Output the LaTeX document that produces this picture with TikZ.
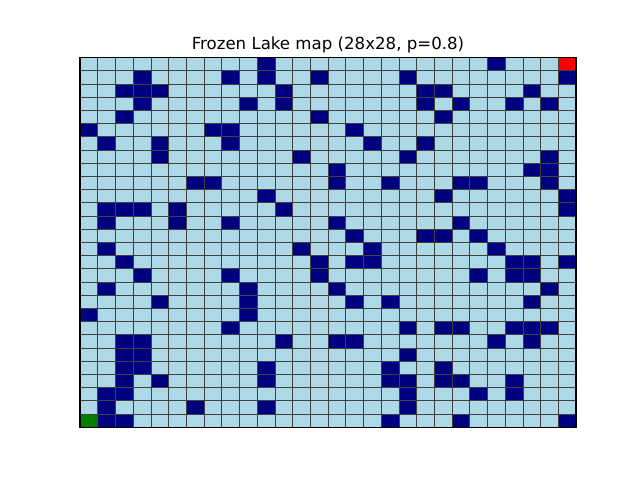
\documentclass[tikz,border=0pt]{standalone}
\usepackage{fontspec}
\setmainfont{DejaVu Sans}
\definecolor{ice}{RGB}{173,216,230}
\definecolor{hole}{RGB}{0,0,128}
\definecolor{goal}{RGB}{255,0,0}
\definecolor{start}{RGB}{0,128,0}
\tikzset{
  gridline/.style={draw=black!75, line width=0.5pt},
  frameline/.style={draw=black, line width=0.8pt},
  titletext/.style={font=\fontsize{12}{14}\selectfont, anchor=base, inner sep=0pt}
}
\begin{document}
\begin{tikzpicture}[x=0.01in, y=0.01in]
\useasboundingbox[fill=white] (0,0) rectangle (640,480);
\node[titletext] (title) at (328,430.7) {Frozen Lake map (28x28, p=0.8)};
\begin{scope}[shift={(80,52.8)}, x=17.7142857*0.01in, y=13.2*0.01in]
  \fill[ice] (0,0) rectangle (28,28);
  \foreach \r/\cols in {
    0/{10,23},
    1/{3,8,10,13,18,27},
    2/{2,3,4,11,19,20,25},
    3/{3,9,11,19,21,24,26},
    4/{2,13,20},
    5/{0,7,8,15},
    6/{1,4,8,16,19},
    7/{4,12,18,26},
    8/{14,25,26},
    9/{6,7,14,17,21,22,26},
    10/{10,20,27},
    11/{1,2,3,5,11,27},
    12/{1,5,8,14,21},
    13/{15,19,20,22},
    14/{1,12,16,23},
    15/{2,13,15,16,24,25,27},
    16/{3,8,13,22,24,25},
    17/{1,9,14,26},
    18/{4,9,15,17,25},
    19/{0,9},
    20/{8,18,20,21,24,25,26},
    21/{2,3,11,14,15,23,25},
    22/{2,3,18},
    23/{2,3,10,17,20},
    24/{2,4,10,17,18,20,21,24},
    25/{1,2,18,22,24},
    26/{1,6,10,18},
    27/{1,2,17,21,27}}{
    \foreach \c in \cols {
      \fill[hole] (\c,27-\r) rectangle ++(1,1);
    }
  }
  \fill[goal] (27,27) rectangle (28,28);
  \fill[start] (0,0) rectangle (1,1);
  \foreach \i in {1,...,27} {
    \draw[gridline] (\i,0) -- (\i,28);
    \draw[gridline] (0,\i) -- (28,\i);
  }
  \draw[frameline] (0,0) rectangle (28,28);
\end{scope}
\end{tikzpicture}
\end{document}
